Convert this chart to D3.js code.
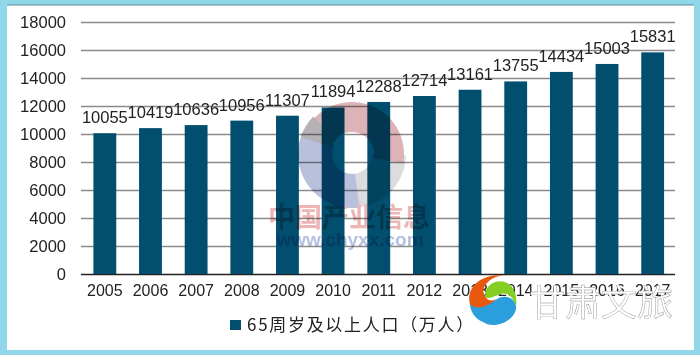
<!DOCTYPE html>
<html lang="zh">
<head>
<meta charset="UTF-8" />
<title>65周岁及以上人口</title>
<style>
  html, body { margin: 0; padding: 0; background: #8fd7e9; }
  svg { display: block; font-family: "Liberation Sans", Arial, sans-serif; }
  .domain { display: none; }
</style>
</head>
<body>
<div class="chart"></div>
<script src="https://d3js.org/d3.v7.min.js"></script>
<script>
// 数据
const years = ['2005','2006','2007','2008','2009','2010','2011','2012','2013','2014','2015','2016','2017'];
const population = [10055,10419,10636,10956,11307,11894,12288,12714,13161,13755,14434,15003,15831];
const yTicks = [0,2000,4000,6000,8000,10000,12000,14000,16000,18000];
const legendLabel = '65周岁及以上人口（万人）';
const markText = '中国产业信息';
const markUrl = 'www.chyxx.com';
const logoText = '甘肃文旅';

const width = 700, height = 355;
const svg = d3.select('.chart').append('svg').attr('width', width).attr('height', height);

// 白色底板
svg.append('rect').attr('x', 0).attr('y', 0).attr('width', width).attr('height', height).attr('fill', '#8fd7e9');
svg.append('rect').attr('x', 7).attr('y', 5).attr('width', 687).attr('height', 345).attr('fill', '#fff');
svg.append('line').attr('x1', 7).attr('x2', 694).attr('y1', 5).attr('y2', 5).attr('stroke', '#5f8c9e').attr('stroke-width', 1.2);

const xScale = d3.scaleBand().domain(years).range([82, 675.5]).paddingInner(0.5).paddingOuter(0.25);
const yScale = d3.scaleLinear().domain([0, 18000]).range([274, 22]);

// 网格线 + y 轴
const yAxis = d3.axisLeft(yScale).tickValues(yTicks).tickSize(0).tickPadding(15).tickFormat(d3.format('d'));
const yGroup = svg.append('g').attr('transform', 'translate(81,0)').call(yAxis);
yGroup.selectAll('text').style('font-size', '16.5px').attr('fill', '#222');
yGroup.selectAll('.tick line')
  .attr('x2', 594)
  .attr('stroke', d => d === 0 ? '#222' : '#8a8a8a')
  .attr('stroke-width', 1.3);

// 长条
svg.selectAll('rect.bar')
  .data(population)
  .join('rect')
  .attr('class', 'bar')
  .attr('x', (d, i) => xScale(years[i]))
  .attr('y', d => yScale(d))
  .attr('width', xScale.bandwidth())
  .attr('height', d => yScale(0) - yScale(d))
  .attr('fill', '#024e6e');

// 数值标签
svg.selectAll('text.val')
  .data(population)
  .join('text')
  .attr('class', 'val')
  .attr('x', (d, i) => xScale(years[i]) + xScale.bandwidth() / 2)
  .attr('y', d => yScale(d) - 10)
  .attr('text-anchor', 'middle')
  .attr('fill', '#222')
  .style('font-size', '16.5px')
  .text(d => d);

// x 轴
const xAxis = d3.axisBottom(xScale).tickSize(0).tickPadding(11);
const xGroup = svg.append('g').attr('transform', 'translate(0,274)').call(xAxis);
xGroup.selectAll('text').style('font-size', '16px').attr('fill', '#222');

// 图例
svg.append('rect').attr('x', 230).attr('y', 320).attr('width', 11).attr('height', 10).attr('fill', '#024e6e');
svg.append('text')
  .attr('x', 247).attr('y', 331)
  .attr('fill', '#222')
  .style('font-family', '"Noto Sans CJK SC", sans-serif')
  .style('font-size', '17px')
  .style('letter-spacing', '1.7px')
  .text(legendLabel);

// 中间水印
const mark = svg.append('g').attr('transform', 'translate(352,154)').style('mix-blend-mode', 'multiply');
const arc = d3.arc();
mark.append('path')
  .attr('d', arc({innerRadius: 20, outerRadius: 54, startAngle: 1.6, endAngle: 3.5}))
  .attr('fill', '#dcdcdf');
mark.append('path')
  .attr('d', arc({innerRadius: 20, outerRadius: 54, startAngle: 3.0, endAngle: 5.2}))
  .attr('fill', '#b9c0dc');
mark.append('path')
  .attr('d', arc({innerRadius: 22, outerRadius: 52, startAngle: -1.2, endAngle: 1.75, cornerRadius: 12}))
  .attr('fill', '#dcb3b6');
mark.append('path')
  .attr('d', arc({innerRadius: 22, outerRadius: 54, startAngle: -1.25, endAngle: -0.8}))
  .attr('fill', '#b5b2b5');
mark.append('text')
  .attr('x', -3).attr('y', 73)
  .attr('text-anchor', 'middle')
  .attr('fill', '#edb5b6')
  .style('font-family', '"Noto Sans CJK SC", sans-serif')
  .style('font-weight', '700')
  .style('font-size', '27px')
  .text(markText);
mark.append('text')
  .attr('x', -2).attr('y', 92)
  .attr('text-anchor', 'middle')
  .attr('fill', '#b6c1e2')
  .style('font-weight', '700')
  .style('font-size', '19px')
  .text(markUrl);

// 右下角 logo
const logo = svg.append('g').attr('transform', 'translate(493,300)');
logo.append('path')
  .attr('d', 'M-10,22 C-20,18 -24,8 -23,0 C-16,10 -4,4 4,-1 C12,-6 22,-2 23,6 C24,16 12,25 0,25 C-4,25 -7,24 -10,22 Z')
  .attr('fill', '#2a9fdc');
logo.append('path')
  .attr('d', 'M-23,4 C-27,-12 -14,-26 12,-25 C-2,-24 -12,-14 -9,-6 C-7,0 -2,2 3,-1 C-6,8 -18,10 -23,4 Z')
  .attr('fill', '#e8580f');
logo.append('path')
  .attr('d', 'M-7,-10 C-2,-20 12,-22 19,-13 C23,-8 24,0 23,6 C20,-4 14,-8 8,-6 C2,-4 -6,0 -8,-3 Z')
  .attr('fill', '#84cf22');
svg.append('text')
  .attr('x', 529).attr('y', 316)
  .attr('fill', '#fff')
  .attr('stroke', '#888')
  .attr('stroke-width', 0.4)
  .style('font-family', '"Noto Sans CJK SC", sans-serif')
  .style('font-size', '36px')
  .text(logoText);
</script>
</body>
</html>
